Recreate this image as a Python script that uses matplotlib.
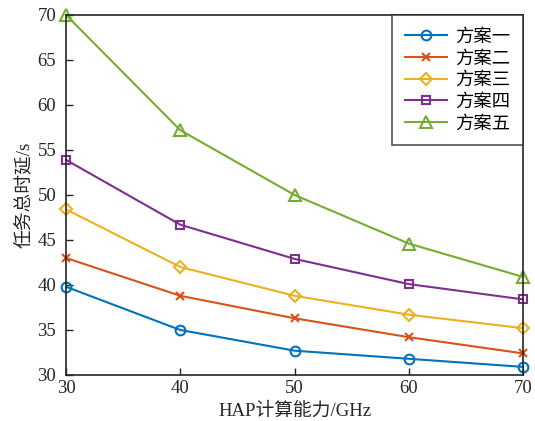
import matplotlib
matplotlib.use("Agg")
import matplotlib.pyplot as plt

plt.rcParams['font.family'] = ['Liberation Serif', 'Noto Sans CJK SC']
plt.rcParams['mathtext.fontset'] = 'stix'

x = [30, 40, 50, 60, 70]
labels = ["方案一", "方案二", "方案三", "方案四", "方案五"]
s1 = [39.8, 35.0, 32.7, 31.8, 30.9]
s2 = [43.0, 38.8, 36.3, 34.2, 32.4]
s3 = [48.4, 42.0, 38.8, 36.7, 35.2]
s4 = [53.9, 46.7, 42.9, 40.1, 38.4]
s5 = [70.0, 57.2, 50.0, 44.6, 40.9]
xticks = [30, 40, 50, 60, 70]
yticks = [30, 35, 40, 45, 50, 55, 60, 65, 70]

colors = ['#0072BD', '#D95319', '#EDB120', '#7E2F8E', '#77AC30']
markers = ['o', 'x', 'D', 's', '^']
msizes = [7, 6, 6, 6, 8]

fig = plt.figure(figsize=(5.35, 4.21), dpi=100)
ax = fig.add_axes([0.1234, 0.1093, 0.8542, 0.8551])

for ys, lab, c, m, ms in zip([s1, s2, s3, s4, s5], labels, colors, markers, msizes):
    ax.plot(x, ys, color=c, marker=m, markersize=ms, markerfacecolor='none',
            markeredgewidth=1.5, linewidth=1.5, label=lab, clip_on=False)

ax.set_xlim(30, 70)
ax.set_ylim(30, 70)
ax.set_xticks(xticks)
ax.set_yticks(yticks)
ax.tick_params(direction='in', length=5, width=1, labelsize=13.5, colors='#262626')
ax.tick_params(axis='y', pad=7)
for sp in ax.spines.values():
    sp.set_linewidth(1.2)
    sp.set_color('#262626')

ax.set_xlabel("HAP计算能力/GHz", fontsize=13.5, color='#262626',
              family=['Liberation Serif', 'Noto Sans CJK SC'])
ax.set_ylabel("任务总时延/s", fontsize=13.5, color='#262626', labelpad=3,
              family=['Liberation Serif', 'Noto Sans CJK SC'])

leg = ax.legend(loc='upper right', frameon=True, fancybox=False,
                borderaxespad=0, handlelength=2.3, handletextpad=0.45,
                labelspacing=0.2, borderpad=0.7,
                prop={'family': ['Noto Sans CJK SC'], 'size': 13.2})
leg.get_frame().set_edgecolor('#262626')
leg.get_frame().set_linewidth(1.2)

fig.savefig("out.png", dpi=100)
